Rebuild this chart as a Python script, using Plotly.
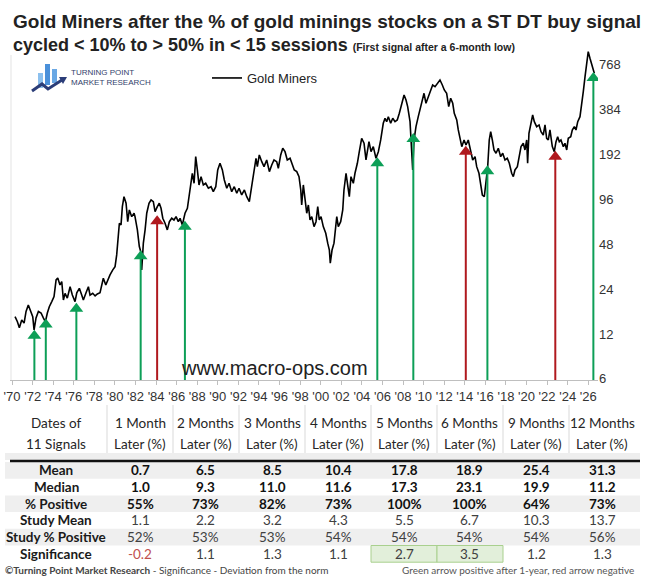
import math
import plotly.graph_objects as go

# ---------------------------------------------------------------------------
# Data
# ---------------------------------------------------------------------------

# Gold Miners index (log scale), decimal years
years = [
    1970.29, 1970.52, 1970.71, 1970.94, 1971.17, 1971.36, 1971.58, 1971.75, 1972.01, 1972.14,
    1972.33, 1972.56, 1972.82, 1973.04, 1973.24, 1973.43, 1973.62, 1973.86, 1974.08, 1974.28,
    1974.44, 1974.66, 1974.83, 1974.99, 1975.15, 1975.37, 1975.64, 1975.86, 1976.12, 1976.29,
    1976.54, 1976.77, 1976.93, 1977.19, 1977.42, 1977.58, 1977.84, 1978.07, 1978.29, 1978.55,
    1978.72, 1978.87, 1979.11, 1979.30, 1979.52, 1979.79, 1980.01, 1980.17, 1980.33, 1980.43,
    1980.59, 1980.72, 1980.88, 1981.08, 1981.24, 1981.40, 1981.63, 1981.86, 1981.95, 1982.18,
    1982.37, 1982.51, 1982.60, 1982.76, 1982.93, 1983.09, 1983.31, 1983.51, 1983.73, 1983.90,
    1984.12, 1984.31, 1984.48, 1984.65, 1984.87, 1985.09, 1985.29, 1985.52, 1985.74, 1985.94,
    1986.16, 1986.33, 1986.55, 1986.81, 1987.04, 1987.20, 1987.37, 1987.52, 1987.69, 1987.85,
    1988.01, 1988.17, 1988.37, 1988.59, 1988.82, 1989.08, 1989.34, 1989.56, 1989.80, 1989.99,
    1990.21, 1990.44, 1990.63, 1990.87, 1991.09, 1991.35, 1991.60, 1991.84, 1992.06, 1992.32,
    1992.58, 1992.81, 1993.06, 1993.29, 1993.52, 1993.71, 1993.84, 1994.03, 1994.27, 1994.49,
    1994.75, 1995.01, 1995.24, 1995.46, 1995.72, 1995.88, 1996.11, 1996.31, 1996.53, 1996.75,
    1997.02, 1997.24, 1997.43, 1997.67, 1997.89, 1998.06, 1998.15, 1998.31, 1998.47, 1998.64,
    1998.80, 1998.96, 1999.13, 1999.35, 1999.54, 1999.71, 1999.86, 2000.03, 2000.25, 2000.49,
    2000.68, 2000.84, 2000.93, 2001.10, 2001.29, 2001.42, 2001.56, 2001.71, 2001.94, 2002.14,
    2002.26, 2002.46, 2002.59, 2002.78, 2002.94, 2003.17, 2003.33, 2003.56, 2003.75, 2003.98,
    2004.21, 2004.40, 2004.69, 2004.89, 2005.11, 2005.37, 2005.60, 2005.83, 2006.08, 2006.25,
    2006.41, 2006.57, 2006.80, 2007.00, 2007.22, 2007.44, 2007.64, 2007.87, 2008.10, 2008.29,
    2008.45, 2008.68, 2008.85, 2008.94, 2009.07, 2009.26, 2009.48, 2009.72, 2009.91, 2010.04,
    2010.23, 2010.46, 2010.69, 2010.88, 2011.11, 2011.33, 2011.59, 2011.82, 2012.01, 2012.24,
    2012.44, 2012.63, 2012.83, 2012.98, 2013.22, 2013.37, 2013.54, 2013.71, 2013.93, 2014.12,
    2014.34, 2014.58, 2014.77, 2015.00, 2015.16, 2015.38, 2015.58, 2015.71, 2015.90, 2016.06,
    2016.23, 2016.38, 2016.52, 2016.68, 2016.84, 2017.04, 2017.26, 2017.49, 2017.69, 2017.91,
    2018.13, 2018.33, 2018.56, 2018.72, 2018.88, 2019.11, 2019.27, 2019.47, 2019.69, 2019.85,
    2020.02, 2020.11, 2020.24, 2020.44, 2020.60, 2020.76, 2020.99, 2021.22, 2021.41, 2021.63,
    2021.80, 2021.96, 2022.12, 2022.28, 2022.51, 2022.70, 2022.87, 2023.03, 2023.19, 2023.35,
    2023.58, 2023.74, 2023.91, 2024.06, 2024.30, 2024.45, 2024.65, 2024.81, 2024.98, 2025.20,
    2025.37, 2025.52, 2025.69, 2025.85, 2026.00, 2026.17, 2026.34, 2026.49, 2026.59,
]
gold_miners = [
    15.7, 14.5, 13.2, 14.9, 14.2, 17.0, 18.8, 17.4, 15.7, 12.8,
    15.4, 17.0, 16.6, 15.4, 14.5, 16.6, 18.3, 19.8, 21.4, 27.7,
    28.5, 25.6, 27.0, 20.3, 22.5, 20.9, 24.9, 21.9, 19.8, 22.7,
    24.3, 21.9, 20.3, 22.7, 24.9, 21.9, 22.5, 21.6, 22.3, 22.7,
    25.6, 28.4, 25.6, 27.7, 29.9, 32.3, 34.0, 40.7, 54.0, 66.4,
    64.7, 85.8, 100.0, 90.4, 68.0, 81.5, 73.5, 77.5, 73.5, 59.9,
    46.3, 42.8, 32.3, 48.8, 59.9, 77.5, 90.4, 95.1, 92.6, 79.4,
    85.8, 90.4, 83.7, 71.7, 66.4, 59.9, 68.0, 71.7, 69.8, 73.5,
    68.0, 71.7, 64.7, 77.5, 83.7, 100.0, 129.5, 143.6, 123.1, 185.6,
    151.2, 119.9, 136.3, 119.9, 123.1, 114.0, 116.7, 108.1, 116.7, 151.2,
    167.6, 151.2, 129.5, 114.0, 123.1, 108.1, 116.7, 105.5, 114.0, 102.7,
    111.0, 100.0, 92.6, 116.7, 151.2, 181.0, 159.1, 190.5, 171.8, 159.1,
    176.4, 147.3, 163.3, 176.4, 171.8, 155.2, 190.5, 211.3, 200.5, 176.4,
    181.0, 163.3, 151.2, 147.3, 136.3, 111.0, 88.0, 119.9, 100.0, 77.5,
    88.0, 69.8, 73.5, 63.0, 68.0, 85.8, 69.8, 73.5, 63.0, 56.9,
    48.8, 43.9, 35.8, 43.9, 48.8, 59.9, 73.5, 63.0, 68.0, 81.5,
    111.0, 143.6, 123.1, 100.0, 136.3, 123.1, 143.6, 167.6, 200.5, 246.5,
    228.3, 176.4, 234.0, 200.5, 216.6, 181.0, 200.5, 240.2, 310.8, 335.6,
    318.7, 344.1, 310.8, 335.6, 318.7, 327.0, 362.7, 423.3, 481.1, 445.4,
    401.7, 318.7, 216.6, 151.2, 240.2, 294.9, 344.1, 401.7, 445.4, 493.8,
    423.3, 468.6, 506.2, 561.4, 546.8, 576.4, 606.3, 561.4, 519.9, 493.8,
    401.7, 457.3, 423.3, 362.7, 327.0, 280.3, 240.2, 216.6, 240.2, 222.3,
    240.2, 205.8, 176.4, 185.6, 159.1, 143.6, 116.7, 102.7, 100.0, 123.1,
    159.1, 240.2, 273.0, 240.2, 205.8, 195.6, 211.3, 185.6, 195.6, 176.4,
    181.0, 167.6, 143.6, 136.3, 151.2, 159.1, 181.0, 216.6, 228.3, 205.8,
    240.2, 167.6, 266.3, 318.7, 353.3, 318.7, 294.9, 302.8, 273.0, 259.4,
    302.8, 246.5, 240.2, 280.3, 216.6, 200.5, 234.0, 252.7, 234.0, 240.2,
    216.6, 228.3, 205.8, 246.5, 252.7, 280.3, 294.9, 280.3, 318.7, 344.1,
    412.1, 506.2, 638.2, 784.8, 938.5, 847.9, 763.0, 690.0, 673.0,
]

# Buy signals: year, arrow head level, outcome after 12 months
signal_years = [1972.17, 1973.28, 1976.25, 1982.50, 1984.10, 1986.80,
                2005.50, 2009.00, 2014.10, 2016.20, 2022.80, 2026.50]
signal_heads = [11.7, 13.9, 17.7, 39.9, 68.5, 63.0,
                167.6, 243.9, 200.5, 148.1, 185.6, 625.0]
signal_outcome = ['pos', 'pos', 'pos', 'pos', 'neg', 'pos',
                  'pos', 'pos', 'neg', 'pos', 'neg', 'pos']

# Axis ticks
y_ticks = [6, 12, 24, 48, 96, 192, 384, 768]
x_ticks = list(range(1970, 2027, 2))

# Table
periods = ['1 Month', '2 Months', '3 Months', '4 Months', '5 Months', '6 Months', '9 Months', '12 Months']
row_labels = ['Mean', 'Median', '% Positive', 'Study Mean', 'Study % Positive', 'Significance']
mean = [0.7, 6.5, 8.5, 10.4, 17.8, 18.9, 25.4, 31.3]
median = [1.0, 9.3, 11.0, 11.6, 17.3, 23.1, 19.9, 11.2]
pct_positive = [55, 73, 82, 73, 100, 100, 64, 73]
study_mean = [1.1, 2.2, 3.2, 4.3, 5.5, 6.7, 10.3, 13.7]
study_pct_positive = [52, 53, 53, 54, 54, 54, 54, 56]
significance = [-0.2, 1.1, 1.3, 1.1, 2.7, 3.5, 1.2, 1.3]

# ---------------------------------------------------------------------------
# Layout helpers (pixel -> paper, figure is 649 x 581 with no margins)
# ---------------------------------------------------------------------------
W, H = 649, 581


def px(x):
    return x / W


def py(y):
    return 1 - y / H


FONT = 'Liberation Sans, Arial, sans-serif'
TFONT = 'Lato, Open Sans, sans-serif'
GREEN = '#0d9f57'
RED = '#b0191e'
Y_FLOOR = 5.9
Y_TOP = 1041

fig = go.Figure()

# Gold miners line
fig.add_trace(go.Scatter(
    x=years, y=gold_miners, mode='lines', name='Gold Miners',
    line=dict(color='#000000', width=1.6),
    showlegend=True,
))

# Signal arrows (shaft + triangular head)
for outcome, color in [('pos', GREEN), ('neg', RED)]:
    xs, ys, hx, hy = [], [], [], []
    for yr, head, oc in zip(signal_years, signal_heads, signal_outcome):
        if oc != outcome:
            continue
        xs += [yr, yr, None]
        ys += [Y_FLOOR, head, None]
        hx.append(yr)
        hy.append(head)
    fig.add_trace(go.Scatter(x=xs, y=ys, mode='lines', line=dict(color=color, width=2),
                             showlegend=False, hoverinfo='skip'))
    fig.add_trace(go.Scatter(x=hx, y=hy, mode='markers',
                             marker=dict(symbol='triangle-up', size=12, color=color),
                             showlegend=False, hoverinfo='skip'))

# ---------------------------------------------------------------------------
# Results table (text annotations over shaded row bands)
# ---------------------------------------------------------------------------
col_w_first, col_w = 102, 66
tbl_left, tbl_top, hdr_bottom, row_h = 5, 405, 461, 16.7
tbl_right = tbl_left + col_w_first + col_w * len(periods)
col_centers = [tbl_left + col_w_first / 2] + \
    [tbl_left + col_w_first + col_w * (i + 0.5) for i in range(len(periods))]

shapes = []
annotations = []

# faint frame line on the left of the chart area
shapes.append(dict(type='line', xref='paper', yref='paper', x0=px(11), x1=px(11),
                   y0=py(380), y1=py(55), line=dict(color='#e3e3e3', width=1)))

# header separators, band and heavy rule
for i in range(len(periods)):
    xb = tbl_left + col_w_first + col_w * i
    shapes.append(dict(type='line', xref='paper', yref='paper', x0=px(xb), x1=px(xb),
                       y0=py(hdr_bottom - 8), y1=py(tbl_top), line=dict(color='#d9d9d9', width=1)))
shapes.append(dict(type='rect', xref='paper', yref='paper', x0=px(tbl_left), x1=px(tbl_right + 5),
                   y0=py(hdr_bottom - 1), y1=py(hdr_bottom - 8), fillcolor='#eeeeee', line_width=0))
shapes.append(dict(type='line', xref='paper', yref='paper', x0=px(tbl_left + 5), x1=px(tbl_right + 5),
                   y0=py(hdr_bottom), y1=py(hdr_bottom), line=dict(color='#111111', width=2.5)))

header_top = ['Dates of'] + periods
header_bottom = ['11 Signals'] + ['Later (%)'] * len(periods)
for cx, t1, t2 in zip(col_centers, header_top, header_bottom):
    for text, yy in [(t1, 423), (t2, 444)]:
        annotations.append(dict(text=text, x=px(cx), y=py(yy), xref='paper', yref='paper',
                                xanchor='center', yanchor='middle', showarrow=False,
                                font=dict(family=TFONT, size=13.5, color='#262626')))

# row bands
for r in range(len(row_labels)):
    y0 = hdr_bottom + 1 + row_h * r
    if r % 2 == 0:
        shapes.append(dict(type='rect', xref='paper', yref='paper', x0=px(tbl_left), x1=px(tbl_right + 5),
                           y0=py(y0 + row_h), y1=py(y0), fillcolor='#efefef', line_width=0, layer='below'))

# cells
for r, label in enumerate(row_labels):
    cy = hdr_bottom + 1 + row_h * (r + 0.5)
    annotations.append(dict(text=f'<b>{label}</b>', x=px(col_centers[0]), y=py(cy), xref='paper',
                            yref='paper', xanchor='center', yanchor='middle', showarrow=False,
                            font=dict(family=TFONT, size=13.5, color='#1a1a1a')))
for i in range(len(periods)):
    col_texts = [
        (f'<b>{mean[i]:.1f}</b>', '#111111'),
        (f'<b>{median[i]:.1f}</b>', '#111111'),
        (f'<b>{pct_positive[i]}%</b>', '#111111'),
        (f'{study_mean[i]:.1f}', '#404040'),
        (f'{study_pct_positive[i]}%', '#404040'),
        (f'{significance[i]:.1f}', '#c0504d' if significance[i] < 0 else '#404040'),
    ]
    for r, (text, color) in enumerate(col_texts):
        cy = hdr_bottom + 1 + row_h * (r + 0.5)
        annotations.append(dict(text=text, x=px(col_centers[i + 1]), y=py(cy), xref='paper',
                                yref='paper', xanchor='center', yanchor='middle', showarrow=False,
                                font=dict(family=TFONT, size=13.5, color=color)))
    if significance[i] > 2:
        x0 = tbl_left + col_w_first + col_w * i
        y0 = hdr_bottom + 1 + row_h * 5
        shapes.append(dict(type='rect', xref='paper', yref='paper', x0=px(x0), x1=px(x0 + col_w),
                           y0=py(y0 + row_h), y1=py(y0), fillcolor='#e2efda',
                           line=dict(color='#a9d08e', width=1), layer='below'))

# logo icon
shapes += [
    dict(type='rect', xref='paper', yref='paper', x0=px(38), x1=px(43), y0=py(88), y1=py(73),
         fillcolor='#8cc0ee', line_width=0),
    dict(type='rect', xref='paper', yref='paper', x0=px(45), x1=px(50), y0=py(85), y1=py(64),
         fillcolor='#4a90da', line_width=0),
    dict(type='rect', xref='paper', yref='paper', x0=px(52), x1=px(57), y0=py(83), y1=py(69),
         fillcolor='#6aa8e4', line_width=0),
    dict(type='path', xref='paper', yref='paper',
         path=f'M {px(32)} {py(91)} L {px(42)} {py(84)} L {px(48)} {py(89)} L {px(62)} {py(80)}',
         line=dict(color='#2b3d78', width=3)),
    dict(type='path', xref='paper', yref='paper',
         path=f'M {px(59)} {py(77)} L {px(67)} {py(77)} L {px(63)} {py(84)} Z',
         fillcolor='#2b3d78', line_width=0),
]

annotations += [
    dict(text='<b>Gold Miners after the % of gold minings stocks on a ST DT buy signal</b>',
         x=px(11), y=py(22), xref='paper', yref='paper', xanchor='left', yanchor='middle',
         showarrow=False, font=dict(family=FONT, size=19, color='#222222')),
    dict(text='<b>cycled &lt; 10% to &gt; 50% in &lt; 15 sessions</b> '
              '<span style="font-size:10.5px"><b>(First signal after a 6-month low)</b></span>',
         x=px(11), y=py(45), xref='paper', yref='paper', xanchor='left', yanchor='middle',
         showarrow=False, font=dict(family=FONT, size=18, color='#222222')),
    dict(text='TURNING POINT<br>MARKET RESEARCH', x=px(69), y=py(78), xref='paper', yref='paper',
         xanchor='left', yanchor='middle', align='left', showarrow=False,
         font=dict(family='Liberation Sans Narrow, Arial Narrow, Arial', size=8, color='#33426b')),
    dict(text='www.macro-ops.com', x=px(274), y=py(368), xref='paper', yref='paper',
         xanchor='center', yanchor='middle', showarrow=False,
         font=dict(family=FONT, size=20, color='#222222')),
    dict(text='<b>©Turning Point Market Research</b> - Significance - Deviation from the norm',
         x=px(3), y=py(570), xref='paper', yref='paper', xanchor='left', yanchor='middle',
         showarrow=False, font=dict(family=TFONT, size=10, color='#444444')),
    dict(text='Green arrow positive after 1-year, red arrow negative',
         x=px(636), y=py(570), xref='paper', yref='paper', xanchor='right', yanchor='middle',
         showarrow=False, font=dict(family=TFONT, size=10, color='#555555')),
]

fig.update_layout(
    width=W, height=H,
    margin=dict(l=0, r=0, t=0, b=0, autoexpand=False),
    paper_bgcolor='#ffffff', plot_bgcolor='#ffffff',
    font=dict(family=FONT, color='#333333'),
    xaxis=dict(
        domain=[px(10), px(598)], range=[1969.8, 2026.95], automargin=False,
        tickvals=x_ticks, ticktext=[f"'{t % 100:02d}" for t in x_ticks], tickangle=0,
        showgrid=False, zeroline=False, showline=True, linecolor='#bfbfbf', linewidth=1,
        ticks='outside', ticklen=4, tickcolor='#bfbfbf',
        tickfont=dict(family=FONT, size=13, color='#333333'),
    ),
    yaxis=dict(
        domain=[py(380), py(45)], type='log', side='right', automargin=False,
        range=[math.log10(Y_FLOOR), math.log10(Y_TOP)],
        tickvals=y_ticks, ticktext=[str(t) for t in y_ticks],
        showgrid=False, zeroline=False, showline=False, ticks='',
        tickfont=dict(family=FONT, size=13, color='#333333'),
    ),
    legend=dict(x=px(207), y=py(63), xanchor='left', yanchor='top', bgcolor='rgba(0,0,0,0)',
                font=dict(family=FONT, size=13, color='#222222'), itemwidth=30),
    shapes=shapes,
    annotations=annotations,
    showlegend=True,
)

# the page's default body margin would shift the 649x581 figure by 8px
fig.write_html('out.html', config={'displayModeBar': False},
               post_script="document.body.style.margin='0';")
